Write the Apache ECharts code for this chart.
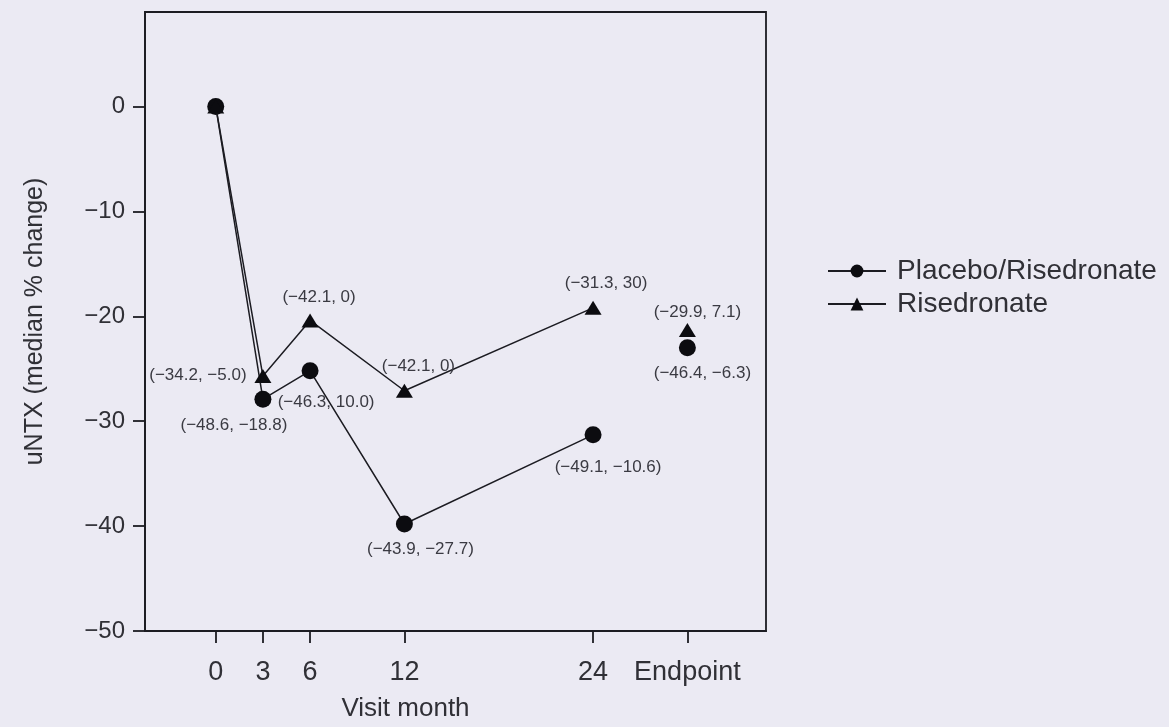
<!DOCTYPE html>
<html>
<head>
<meta charset="utf-8">
<script src="https://cdn.jsdelivr.net/npm/echarts@6/dist/echarts.min.js"></script>
<style>
  html, body { margin: 0; padding: 0; background: #ebeaf3; }
  #chart { width: 1169px; height: 727px; }
</style>
</head>
<body>
<div id="chart"></div>
<script>
// Visit months on the x axis; the endpoint sits at its own slot after month 24
const months = [0, 3, 6, 12, 24];
const endpointX = 30;
const tickValues = [0, 3, 6, 12, 24, 30];
const tickLabels = ['0', '3', '6', '12', '24', 'Endpoint'];
const yTicks = [-50, -40, -30, -20, -10, 0];

// Median % change in uNTX
const placebo = [0, -27.9, -25.2, -39.8, -31.3];
const placeboEnd = -23.0;
const risedronate = [0, -25.7, -20.4, -27.1, -19.2];
const risedronateEnd = -21.3;

// Interval annotations shown beside each point
const placeboCI = ['', '(\u221248.6, \u221218.8)', '(\u221246.3, 10.0)', '(\u221243.9, \u221227.7)', '(\u221249.1, \u221210.6)'];
const placeboEndCI = '(\u221246.4, \u22126.3)';
const risedronateCI = ['', '(\u221234.2, \u22125.0)', '(\u221242.1, 0)', '(\u221242.1, 0)', '(\u221231.3, 30)'];
const risedronateEndCI = '(\u221229.9, 7.1)';

// Label offsets (px) from each marker centre
const placeboOffsets = [[0, 0], [-29, 26], [16, 32], [16, 25], [15, 33]];
const placeboEndOffset = [15, 26];
const risedronateOffsets = [[0, 0], [-65, -1], [9, -23], [14, -24], [13, -25]];
const risedronateEndOffset = [10, -18];

const FONT = 'Liberation Sans, Arial, sans-serif';
const TEXT = '#303036';
const INK = '#1c1c22';

function buildSeriesData(values, endValue, labels, endLabel, offsets, endOffset) {
  const pts = values.map((v, i) => ({
    value: [months[i], v],
    label: labels[i] ? { show: true, formatter: labels[i], offset: offsets[i] } : { show: false }
  }));
  // gap so the endpoint is drawn as a lone marker
  pts.push({ value: [(months[months.length - 1] + endpointX) / 2, '-'] });
  pts.push({ value: [endpointX, endValue], label: { show: true, formatter: endLabel, offset: endOffset } });
  return pts;
}

const labelStyle = {
  position: 'inside',
  color: '#3a3a42',
  fontFamily: FONT,
  fontSize: 17,
  align: 'center',
  verticalAlign: 'middle'
};

const chart = echarts.init(document.getElementById('chart'), null, { renderer: 'canvas' });

chart.setOption({
  backgroundColor: '#ebeaf3',
  animation: false,
  grid: {
    left: 145, right: 403, top: 12, bottom: 93,
    show: true, borderColor: INK, borderWidth: 1.8, backgroundColor: 'transparent'
  },
  legend: {
    orient: 'vertical',
    left: 822,
    top: 252,
    itemWidth: 58,
    itemHeight: 16,
    itemGap: 5,
    textStyle: { fontFamily: FONT, fontSize: 28, color: TEXT, padding: [0, 0, 0, 6] },
    data: ['Placebo/Risedronate', 'Risedronate']
  },
  xAxis: {
    type: 'value',
    min: -4.5,
    max: 35,
    name: 'Visit month',
    nameLocation: 'middle',
    nameGap: 65,
    nameTextStyle: { fontFamily: FONT, fontSize: 26, color: TEXT, padding: [0, 100, 0, 0] },
    splitLine: { show: false },
    axisLine: { onZero: false, lineStyle: { color: INK, width: 1.8 } },
    axisTick: { customValues: tickValues, length: 12, lineStyle: { color: INK, width: 1.8 } },
    axisLabel: {
      customValues: tickValues,
      margin: 28,
      fontFamily: FONT, fontSize: 27, color: TEXT,
      formatter: v => tickLabels[tickValues.indexOf(v)]
    }
  },
  yAxis: {
    type: 'value',
    min: -50,
    max: 9,
    interval: 10,
    name: 'uNTX (median % change)',
    nameLocation: 'middle',
    nameGap: 97,
    nameTextStyle: { fontFamily: FONT, fontSize: 25, color: TEXT },
    splitLine: { show: false },
    axisLine: { show: true, onZero: false, lineStyle: { color: INK, width: 1.8 } },
    axisTick: { show: true, customValues: yTicks, length: 12, lineStyle: { color: INK, width: 1.8 } },
    axisLabel: {
      customValues: yTicks,
      margin: 20,
      fontFamily: FONT, fontSize: 24, color: TEXT,
      formatter: v => String(v).replace('-', '\u2212')
    }
  },
  series: [
    {
      name: 'Placebo/Risedronate',
      type: 'line',
      symbol: 'circle',
      symbolSize: 17,
      connectNulls: false,
      itemStyle: { color: '#0c0c10' },
      lineStyle: { color: INK, width: 1.5 },
      label: labelStyle,
      data: buildSeriesData(placebo, placeboEnd, placeboCI, placeboEndCI, placeboOffsets, placeboEndOffset),
      z: 3
    },
    {
      name: 'Risedronate',
      type: 'line',
      symbol: 'triangle',
      symbolSize: [17, 14],
      connectNulls: false,
      itemStyle: { color: '#0c0c10' },
      lineStyle: { color: INK, width: 1.5 },
      label: labelStyle,
      data: buildSeriesData(risedronate, risedronateEnd, risedronateCI, risedronateEndCI, risedronateOffsets, risedronateEndOffset),
      z: 4
    }
  ]
});
</script>
</body>
</html>
